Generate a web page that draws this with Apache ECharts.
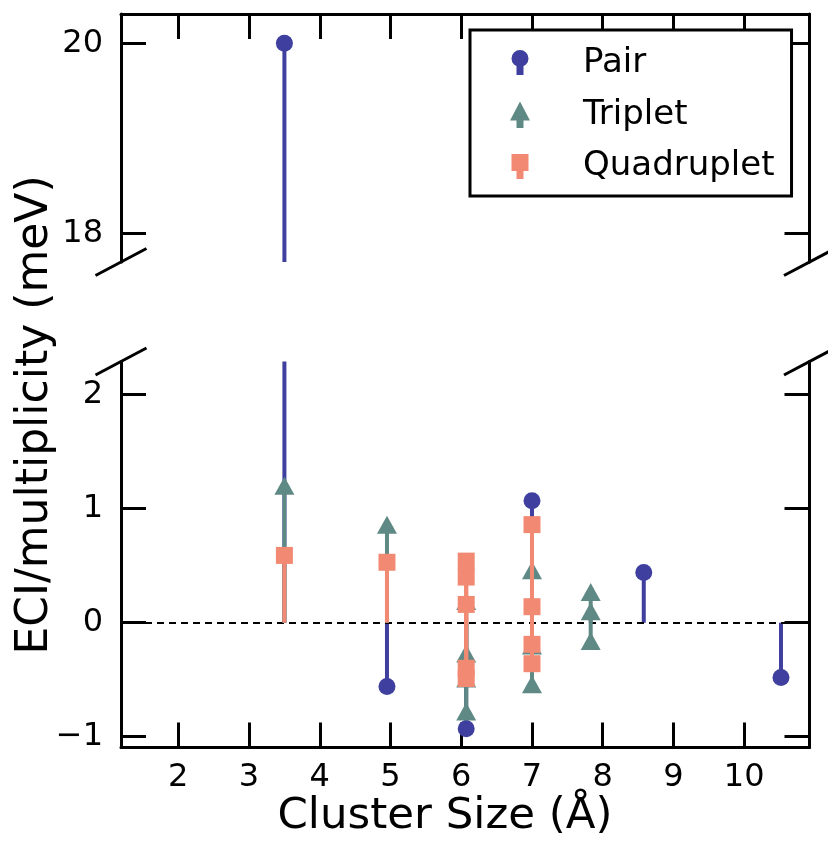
<!DOCTYPE html>
<html>
<head>
    <meta charset="utf-8"/>
    <title>ECI stem plot</title>
    <script src="https://cdn.jsdelivr.net/npm/echarts@6/dist/echarts.min.js"></script>
    <style>
        html, body { margin: 0; padding: 0; background: #fff; }
        #chart1 { width: 828px; height: 842px; }
    </style>
</head>
<body>
<div id="chart1"></div>
<script type="text/javascript">
    // data
    var pairX = [3.5, 4.95, 6.07, 7.0, 8.58, 10.52];
    var pairY = [20.0, -0.56, -0.93, 1.07, 0.44, -0.48];

    var tripletX = [3.5, 4.95, 6.07, 6.07, 6.07, 6.07, 7.0, 7.0, 7.0, 7.83, 7.83, 7.83];
    var tripletY = [1.2, 0.86, 0.19, -0.27, -0.49, -0.78, 0.46, -0.2, -0.54, 0.27, 0.1, -0.16];

    var quadX = [3.5, 4.95, 6.07, 6.07, 6.07, 6.07, 6.07, 7.0, 7.0, 7.0, 7.0];
    var quadY = [0.59, 0.53, 0.54, 0.4, 0.16, -0.4, -0.49, 0.86, 0.14, -0.19, -0.36];

    var xTicks = [2, 3, 4, 5, 6, 7, 8, 9, 10];
    var yTopTicks = [18, 20];
    var yBotTicks = [-1, 0, 1, 2];

    // layout
    var FONT = 'DejaVu Sans';
    var GL = 121, GW = 688.5;
    var T1 = 14, H1 = 248;      // upper panel
    var T2 = 361.5, H2 = 386;   // lower panel

    var cPair = '#3f3f9f', cTrip = '#5f8985', cQuad = '#f28a73';

    var myChart1 = echarts.init(document.getElementById('chart1'));

    function zip(xs, ys) {
        return xs.map(function (x, i) { return [x, ys[i]]; });
    }

    function stems(name, xs, ys, color, gi, z) {
        return {
            name: name + ' stem',
            type: 'custom',
            xAxisIndex: gi,
            yAxisIndex: gi * 2,
            clip: true,
            silent: true,
            z: z,
            data: zip(xs, ys),
            renderItem: function (params, api) {
                var p0 = api.coord([api.value(0), 0]);
                var p1 = api.coord([api.value(0), api.value(1)]);
                return {
                    type: 'line',
                    shape: {x1: p0[0], y1: p0[1], x2: p1[0], y2: p1[1]},
                    style: {stroke: color, lineWidth: 4}
                };
            }
        };
    }

    function marks(name, xs, ys, color, symbol, size, gi, z) {
        return {
            name: name,
            type: 'scatter',
            xAxisIndex: gi,
            yAxisIndex: gi * 2,
            symbol: symbol,
            symbolSize: size,
            itemStyle: {color: color, opacity: 1},
            silent: true,
            z: z,
            data: zip(xs, ys)
        };
    }

    function axisY(gi, right, min, max, ticks) {
        return {
            type: 'value',
            gridIndex: gi,
            position: right ? 'right' : 'left',
            min: min,
            max: max,
            axisLine: {show: true, lineStyle: {color: '#000', width: 3}},
            axisTick: {show: true, inside: true, length: 25, lineStyle: {color: '#000', width: 3}, customValues: ticks},
            axisLabel: {
                show: !right, customValues: ticks, margin: 18,
                color: '#000', fontFamily: FONT, fontSize: 32,
                formatter: function (v) { return v < 0 ? '\u2212' + Math.abs(v) : String(v); }
            },
            splitLine: {show: false}
        };
    }

    function axisX(gi, top) {
        return {
            type: 'value',
            gridIndex: gi,
            position: top ? 'top' : 'bottom',
            min: 1.19,
            max: 10.923,
            axisLine: {show: true, onZero: false, lineStyle: {color: '#000', width: 3}},
            axisTick: {show: true, inside: true, length: 25, lineStyle: {color: '#000', width: 3}, customValues: xTicks},
            axisLabel: {show: !top, customValues: xTicks, margin: 14, color: '#000', fontFamily: FONT, fontSize: 32},
            splitLine: {show: false}
        };
    }

    // legend icons: marker with a short stem under it
    var pairIcon = 'path://M0,0L0,0ZM20,27L20,27ZM1.5,8.5A8.5,8.5,0,1,1,18.5,8.5A8.5,8.5,0,1,1,1.5,8.5ZM6.5,12L13.5,12L13.5,25L6.5,25Z';
    var tripIcon = 'path://M0,0L0,0ZM20,27L20,27ZM10,0L20,19L0,19ZM6.5,18L13.5,18L13.5,26.5L6.5,26.5Z';
    var quadIcon = 'path://M0,0L0,0ZM20,27L20,27ZM1.5,1L18.5,1L18.5,18L1.5,18ZM6.5,17L13.5,17L13.5,26L6.5,26Z';

    // broken axis diagonals
    var B1 = T1 + H1, GR = GL + GW;
    var dx = 25.5, dy = 13.5;
    var breaks = [[GL, B1], [GR, B1], [GL, T2], [GR, T2]].map(function (p) {
        return {
            type: 'line',
            z: 100,
            shape: {x1: p[0] - dx, y1: p[1] + dy, x2: p[0] + dx, y2: p[1] - dy},
            style: {stroke: '#000', lineWidth: 3}
        };
    });

    var series = [];
    [0, 1].forEach(function (gi) {
        series.push(stems('Pair', pairX, pairY, cPair, gi, 3));
        series.push(marks('Pair', pairX, pairY, cPair, 'circle', 17, gi, 4));
        series.push(stems('Triplet', tripletX, tripletY, cTrip, gi, 5));
        series.push(marks('Triplet', tripletX, tripletY, cTrip, 'triangle', [20, 18], gi, 6));
        series.push(stems('Quadruplet', quadX, quadY, cQuad, gi, 7));
        series.push(marks('Quadruplet', quadX, quadY, cQuad, 'rect', 17, gi, 8));
    });
    // dashed zero line
    series.push({
        name: 'zero',
        type: 'line',
        xAxisIndex: 1,
        yAxisIndex: 2,
        z: 2,
        data: [],
        markLine: {
            silent: true,
            symbol: 'none',
            label: {show: false},
            lineStyle: {color: '#000', width: 2, type: [7, 5]},
            data: [{yAxis: 0}]
        }
    });

    myChart1.setOption({
        animation: false,
        backgroundColor: '#fff',
        grid: [
            {left: GL, top: T1, width: GW, height: H1},
            {left: GL, top: T2, width: GW, height: H2}
        ],
        xAxis: [axisX(0, true), axisX(1, false)],
        yAxis: [
            axisY(0, false, 17.703, 20.308, yTopTicks),
            axisY(0, true, 17.703, 20.308, yTopTicks),
            axisY(1, false, -1.095, 2.291, yBotTicks),
            axisY(1, true, -1.095, 2.291, yBotTicks)
        ],
        legend: {
            orient: 'vertical',
            left: 470,
            top: 30,
            padding: [16.5, 17, 12.5, 40],
            itemWidth: 20,
            itemHeight: 27,
            itemGap: 17.5,
            backgroundColor: '#fff',
            borderColor: '#000',
            borderWidth: 3,
            borderRadius: 0,
            z: 50,
            textStyle: {color: '#000', fontFamily: FONT, fontSize: 34, padding: [0, 0, 0, 48]},
            data: [
                {name: 'Pair', icon: pairIcon},
                {name: 'Triplet', icon: tripIcon},
                {name: 'Quadruplet', icon: quadIcon}
            ]
        },
        graphic: breaks.concat([
            {
                type: 'text',
                x: 36,
                y: 415,
                rotation: Math.PI / 2,
                style: {
                    text: 'ECI/multiplicity (meV)', fill: '#000',
                    font: '44px "DejaVu Sans"', align: 'center', verticalAlign: 'middle'
                }
            },
            {
                type: 'text',
                x: 445,
                y: 817,
                style: {
                    text: 'Cluster Size (\u00c5)', fill: '#000',
                    font: '43.5px "DejaVu Sans"', align: 'center', verticalAlign: 'middle'
                }
            }
        ]),
        series: series
    });
</script>
</body>
</html>
